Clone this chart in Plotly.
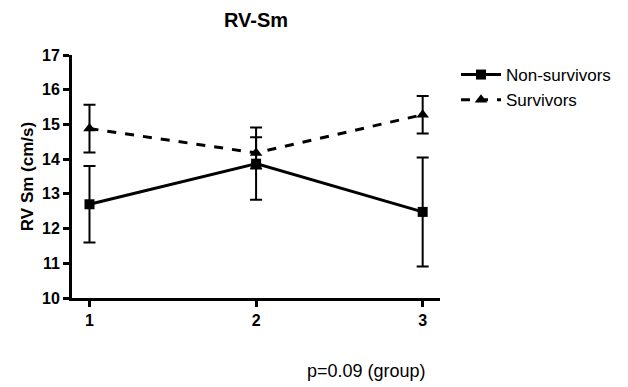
import plotly.graph_objects as go

x_vals = [1, 2, 3]
tick_labels = ["1", "2", "3"]
ns_mean = [12.7, 13.87, 12.48]
ns_err = [1.1, 1.04, 1.57]
sv_mean = [14.88, 14.18, 15.28]
sv_err = [0.69, 0.45, 0.54]

FONT = "Liberation Sans, Arial, sans-serif"

fig = go.Figure()
fig.add_trace(go.Scatter(
    x=x_vals, y=ns_mean, name="Non-survivors", mode="lines+markers",
    line=dict(color="black", width=3),
    marker=dict(symbol="square", size=10, color="black"),
    error_y=dict(type="data", array=ns_err, color="black", thickness=2, width=6),
))
fig.add_trace(go.Scatter(
    x=x_vals, y=sv_mean, name="Survivors", mode="lines+markers",
    line=dict(color="black", width=3, dash="dash"),
    marker=dict(symbol="triangle-up", size=11, color="black"),
    error_y=dict(type="data", array=sv_err, color="black", thickness=2, width=6),
))

fig.update_layout(
    width=628, height=387,
    margin=dict(l=72, r=188, t=55, b=89),
    paper_bgcolor="white", plot_bgcolor="white",
    font=dict(family=FONT, color="black"),
    title=dict(text="<b>RV-Sm</b>", x=0.5, xref="paper", xanchor="center",
               y=(387 - 20) / 387, yref="container", yanchor="middle",
               font=dict(size=20, family=FONT, color="black")),
    showlegend=True,
    legend=dict(x=(456 - 72) / 368, y=(298 - 57) / 243, xanchor="left", yanchor="top",
                font=dict(size=17, family=FONT, color="black"),
                bgcolor="rgba(0,0,0,0)", itemwidth=40, tracegroupgap=0),
    xaxis=dict(range=[0.895, 3.104], tickvals=x_vals, ticktext=["<b>%s</b>" % t for t in tick_labels],
               showline=True, linecolor="black", linewidth=3, showgrid=False, zeroline=False,
               ticks="outside", ticklen=6, tickwidth=3, tickcolor="black",
               tickfont=dict(size=16, family=FONT, color="black")),
    yaxis=dict(range=[10, 17], tickvals=list(range(10, 18)),
               ticktext=["<b>%d</b>" % v for v in range(10, 18)],
               showline=True, linecolor="black", linewidth=3, showgrid=False, zeroline=False,
               ticks="outside", ticklen=6, tickwidth=3, tickcolor="black",
               tickfont=dict(size=16, family=FONT, color="black"),
               title=dict(text="<b>RV Sm (cm/s)</b>", font=dict(size=17, family=FONT, color="black"),
                          standoff=5)),
    annotations=[dict(text="p=0.09 (group)", xref="paper", yref="paper",
                      x=(366 - 72) / 368, y=-(371 - 298) / 243, xanchor="center", yanchor="middle",
                      showarrow=False, font=dict(size=18, family=FONT, color="black"))],
)

fig.write_html("out.html")
